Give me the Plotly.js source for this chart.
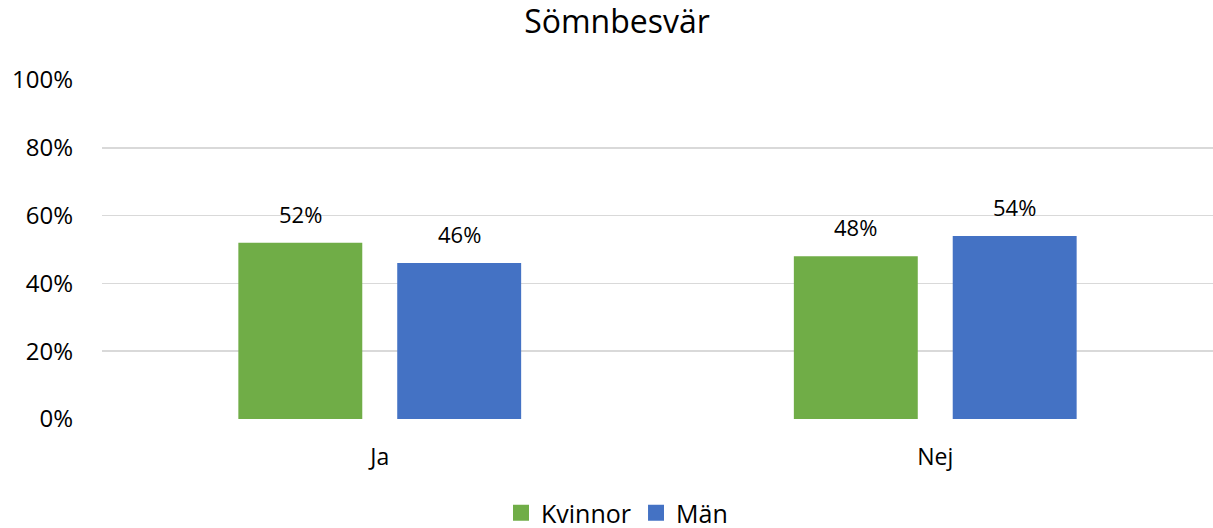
<!DOCTYPE html>
<html>
<head>
<meta charset="utf-8">
<script src="https://cdn.plot.ly/plotly-3.0.1.min.js"></script>
<style>html,body{margin:0;padding:0;background:#fff;}#chart{width:1213px;height:528px;}</style>
</head>
<body>
<div id="chart"></div>
<script>
var categories = ["Ja", "Nej"];
var seriesNames = ["Kvinnor", "Män"];
var kvinnor = [0.52, 0.48];
var man = [0.46, 0.54];
var colors = ["#70AD47", "#4472C4"];
var yTickVals = [0, 0.2, 0.4, 0.6, 0.8, 1.0];
var yTickText = ["0%", "20%", "40%", "60%", "80%", "100%"];

var FONT = "Open Sans, Noto Sans, sans-serif";
var series = [kvinnor, man];
var traces = series.map(function (vals, i) {
  return {
    type: "bar",
    name: seriesNames[i],
    x: categories,
    y: vals,
    marker: { color: colors[i] },
    showlegend: false,
    hoverinfo: "skip"
  };
});
// legend-only entries with larger square swatches
seriesNames.forEach(function (n, i) {
  traces.push({
    type: "scatter", mode: "markers", name: n,
    x: [null], y: [null],
    marker: { symbol: "square", size: 16, color: colors[i] },
    showlegend: true, hoverinfo: "skip"
  });
});

var annotations = [];
series.forEach(function (vals, i) {
  vals.forEach(function (v, j) {
    annotations.push({
      x: categories[j], y: v, xref: "x", yref: "y",
      text: Math.round(v * 100) + "%",
      showarrow: false,
      yanchor: "bottom",
      xshift: (i === 0 ? -1 : 1) * 79.5,
      yshift: 12,
      font: { family: FONT, size: 22, color: "#000" }
    });
  });
});

var layout = {
  width: 1213, height: 528,
  margin: { l: 102, r: 0, t: 80, b: 109, autoexpand: false },
  paper_bgcolor: "#fff", plot_bgcolor: "#fff",
  font: { family: FONT, color: "#000" },
  title: {
    text: "Sömnbesvär",
    font: { family: FONT, size: 32, color: "#000" },
    x: 617 / 1213, xref: "container", xanchor: "center",
    y: 0.98, yref: "container", yanchor: "top"
  },
  barmode: "group",
  bargap: 0.428,
  bargroupgap: 0.22,
  xaxis: {
    type: "category",
    showgrid: false, zeroline: false, showline: false, ticks: "",
    tickfont: { family: FONT, size: 23, color: "#000" },
    ticklabelstandoff: 22,
    fixedrange: true
  },
  yaxis: {
    range: [0, 1], tickvals: yTickVals, ticktext: yTickText,
    showgrid: true, gridcolor: "#d9d9d9", gridwidth: 1.5,
    zeroline: false, showline: false, ticks: "",
    tickfont: { family: FONT, size: 24, color: "#000" },
    ticklabelstandoff: 28,
    fixedrange: true
  },
  showlegend: true,
  legend: {
    orientation: "h", x: 617 / 1213, xanchor: "center", xref: "container",
    y: 38 / 528, yanchor: "top", yref: "container",
    font: { family: FONT, size: 25, color: "#000" },
    itemwidth: 30, tracegroupgap: 0,
    bgcolor: "rgba(0,0,0,0)"
  },
  annotations: annotations
};

Plotly.newPlot("chart", traces, layout, { displayModeBar: false, staticPlot: true });
</script>
</body>
</html>
